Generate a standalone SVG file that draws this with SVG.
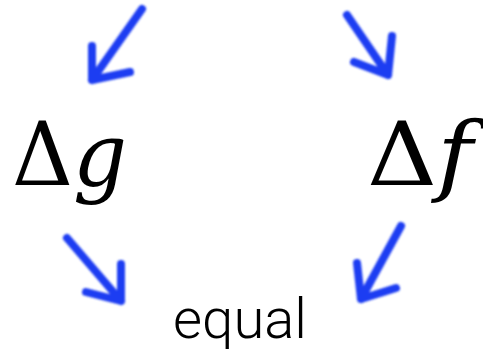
<svg xmlns="http://www.w3.org/2000/svg" width="483" height="350" viewBox="0 0 483 350">
<defs>
<style>
.arrow{fill:none;stroke:#1f3cf2;stroke-width:8;stroke-linecap:round;stroke-linejoin:round;filter:url(#soft)}
.math{font-family:"DejaVu Serif",serif;fill:#000}
.it{font-style:italic}
.word{font-family:Roboto,"Liberation Sans",sans-serif;font-weight:300;fill:#000}
</style>
<filter id="soft" x="-20%" y="-20%" width="140%" height="140%"><feGaussianBlur stdDeviation="0.8"/></filter>
</defs>
<rect width="483" height="350" fill="#fff"/>
<g id="dg">
<text class="math" x="12" y="185" font-size="88" textLength="115" lengthAdjust="spacingAndGlyphs">Δ<tspan class="it">g</tspan></text>
</g>
<g id="df">
<text class="math" x="367" y="185" font-size="88" textLength="106" lengthAdjust="spacingAndGlyphs">Δ<tspan class="it">f</tspan></text>
</g>
<g id="eq">
<text class="word" x="173" y="338" font-size="55" textLength="134" lengthAdjust="spacingAndGlyphs">equal</text>
</g>
<g id="connectors">
<path class="arrow" d="M142,9 L92,80 M92,46 L92,80 L130,72"/>
<path class="arrow" d="M347,15 L388,75 M392,36 L388,75 L354,62"/>
<path class="arrow" d="M67,238 L121,301 M121,264 L121,301 L86,292"/>
<path class="arrow" d="M401,226 L361,299 M357,263 L361,299 L396,288"/>
</g>
</svg>
